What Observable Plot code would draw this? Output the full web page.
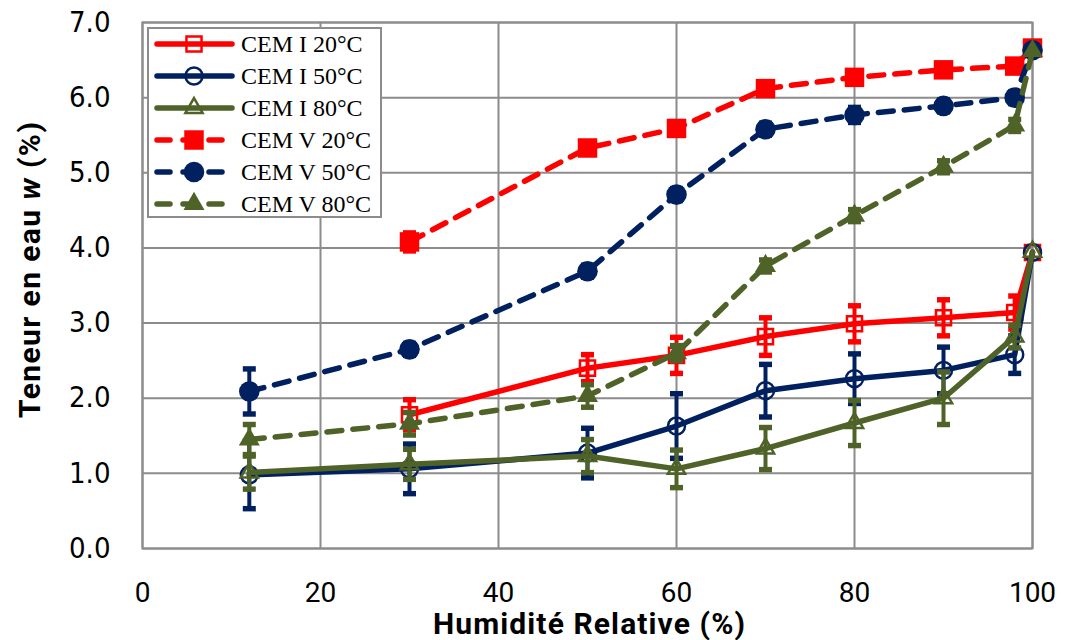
<!DOCTYPE html>
<html><head><meta charset="utf-8">
<script src="https://cdn.jsdelivr.net/npm/d3@7"></script>
<script src="https://cdn.jsdelivr.net/npm/@observablehq/plot@0.6"></script>
<style>
body{margin:0;background:#fff}
#chart{position:relative;width:1065px;height:640px}
</style>
</head><body><div id="chart"></div>
<script>
// ---- data ----
const humidity = [12, 30, 50, 60, 70, 80, 90, 98, 100];
const seriesNames = ["CEM I 20°C", "CEM I 50°C", "CEM I 80°C", "CEM V 20°C", "CEM V 50°C", "CEM V 80°C"];
const cemI20 = [null, 1.78, 2.40, 2.57, 2.82, 2.99, 3.07, 3.14, 3.94];
const cemI50 = [0.98, 1.06, 1.27, 1.63, 2.10, 2.26, 2.37, 2.58, 3.94];
const cemI80 = [1.01, 1.12, 1.23, 1.06, 1.33, 1.67, 2.00, 2.82, 3.95];
const cemV20 = [null, 4.08, 5.33, 5.59, 6.12, 6.27, 6.37, 6.42, 6.66];
const cemV50 = [2.09, 2.65, 3.69, 4.71, 5.58, 5.77, 5.89, 6.00, 6.63];
const cemV80 = [1.45, 1.66, 2.03, 2.60, 3.76, 4.43, 5.08, 5.63, 6.62];
const errI20 = [null, 0.20, 0.18, 0.24, 0.25, 0.24, 0.24, 0.22, 0];
const errI50 = [0.45, 0.33, 0.33, 0.43, 0.35, 0.33, 0.31, 0.25, 0];
const errI80 = [0.22, 0.20, 0.22, 0.25, 0.28, 0.30, 0.35, 0.15, 0];
const errV20 = [null, 0.12, 0.08, 0.08, 0.08, 0.08, 0.08, 0.08, 0];
const errV50 = [0.30, 0.08, 0.08, 0.08, 0.08, 0.10, 0.08, 0.08, 0];
const errV80 = [0.20, 0.15, 0.15, 0.10, 0.08, 0.08, 0.08, 0.08, 0];
const xTicks = [0, 20, 40, 60, 80, 100];
const yTicks = [0, 1, 2, 3, 4, 5, 6, 7];
const xTitle = "Humidité Relative (%)";
const yTitleParts = ["Teneur en eau ", "w", " (%)"];

const values = [cemI20, cemI50, cemI80, cemV20, cemV50, cemV80];
const errors = [errI20, errI50, errI80, errV20, errV50, errV80];

// ---- styles ----
const RED = "#ff0000", NAVY = "#002060", OLIVE = "#4f6228", GRID = "#8c8c8c";
const styles = [
  {color: RED,   dashed: false, symbol: "square",   filled: false, r: 8.5},
  {color: NAVY,  dashed: false, symbol: "circle",   filled: false, r: 8.5},
  {color: OLIVE, dashed: false, symbol: "triangle", filled: false, r: 6.4},
  {color: RED,   dashed: true,  symbol: "square",   filled: true,  r: 11},
  {color: NAVY,  dashed: true,  symbol: "circle",   filled: true,  r: 10.3},
  {color: OLIVE, dashed: true,  symbol: "triangle", filled: true,  r: 7.8}
];
const DASH = "15,11";
const TITLE_FONT = "bold 30px Roboto, 'Open Sans', sans-serif";

const table = [];
seriesNames.forEach((name, i) => {
  humidity.forEach((h, j) => {
    if (values[i][j] != null) table.push({series: name, rh: h, w: values[i][j], err: errors[i][j]});
  });
});

const capSymbol = {
  draw(ctx, size) {
    const s = Math.sqrt(size / Math.PI);
    ctx.rect(-s, -s * 0.42, 2 * s, s * 0.84);
  }
};

const marks = [
  Plot.gridX(xTicks, {stroke: GRID, strokeOpacity: 1, strokeWidth: 2}),
  Plot.gridY(yTicks, {stroke: GRID, strokeOpacity: 1, strokeWidth: 2}),
  Plot.frame({stroke: GRID, strokeWidth: 2}),
  Plot.axisX(xTicks, {tickSize: 0, tickPadding: 34, fontSize: 28, fontFamily: "Roboto, sans-serif", fill: "#000", label: null, tickFormat: d => String(d)}),
  Plot.axisY(yTicks, {tickSize: 0, tickPadding: 32, fontSize: 29, fontFamily: "'DejaVu Sans Condensed', 'DejaVu Sans', sans-serif", fill: "#000", label: null, tickFormat: d => d.toFixed(1)})
];

seriesNames.forEach((name, i) => {
  const st = styles[i];
  const rows = table.filter(d => d.series === name);
  const withErr = rows.filter(d => d.err > 0);
  marks.push(Plot.ruleX(withErr, {x: "rh", y1: d => d.w - d.err, y2: d => d.w + d.err, stroke: st.color, strokeWidth: 4}));
  marks.push(Plot.dot(withErr, {x: "rh", y: d => d.w - d.err, symbol: capSymbol, r: 6.5, fill: st.color, stroke: "none"}));
  marks.push(Plot.dot(withErr, {x: "rh", y: d => d.w + d.err, symbol: capSymbol, r: 6.5, fill: st.color, stroke: "none"}));
  marks.push(Plot.line(rows, {x: "rh", y: "w", stroke: st.color, strokeWidth: 5.5,
    strokeDasharray: st.dashed ? DASH : null, strokeLinecap: "round", strokeLinejoin: "round"}));
  marks.push(Plot.dot(rows, {x: "rh", y: "w", symbol: st.symbol, r: st.r,
    fill: st.filled ? st.color : "none", stroke: st.filled ? "none" : st.color, strokeWidth: 2.5}));
});

const plot = Plot.plot({
  width: 1065,
  height: 640,
  marginLeft: 142,
  marginRight: 33,
  marginTop: 22,
  marginBottom: 92,
  x: {domain: [0, 100]},
  y: {domain: [0, 7]},
  style: {background: "#fff", overflow: "visible"},
  marks
});
document.getElementById("chart").appendChild(plot);

// ---- axis titles & legend (layout only) ----
const svg = d3.select(plot);
const ytitle = svg.append("text")
  .attr("transform", "translate(40,270) rotate(-90)")
  .attr("text-anchor", "middle")
  .attr("textLength", 296)
  .style("font", TITLE_FONT)
  .style("fill", "#000");
ytitle.append("tspan").text(yTitleParts[0]);
ytitle.append("tspan").style("font-style", "italic").text(yTitleParts[1]);
ytitle.append("tspan").text(yTitleParts[2]);

svg.append("text")
  .attr("x", 589).attr("y", 634)
  .attr("text-anchor", "middle")
  .attr("textLength", 312)
  .style("font", TITLE_FONT)
  .style("fill", "#000")
  .text(xTitle);

const lg = svg.append("g");
lg.append("rect").attr("x", 148).attr("y", 28).attr("width", 233).attr("height", 189)
  .attr("fill", "#fff").attr("stroke", GRID).attr("stroke-width", 2);
const symMap = {square: d3.symbolSquare, circle: d3.symbolCircle, triangle: d3.symbolTriangle};
seriesNames.forEach((name, i) => {
  const st = styles[i];
  const cy = 44 + i * 32;
  lg.append("line").attr("x1", 157).attr("x2", 232).attr("y1", cy).attr("y2", cy)
    .attr("stroke", st.color).attr("stroke-width", 5.5).attr("stroke-linecap", "round")
    .attr("stroke-dasharray", st.dashed ? "13,13" : null);
  lg.append("path").attr("transform", `translate(194,${cy})`)
    .attr("d", d3.symbol(symMap[st.symbol], st.r * st.r * Math.PI)())
    .attr("fill", st.filled ? st.color : "none")
    .attr("stroke", st.filled ? "none" : st.color).attr("stroke-width", 2.5);
  lg.append("text").attr("x", 241).attr("y", cy + 8)
    .attr("text-anchor", "start")
    .style("font", "24px 'Liberation Serif', 'DejaVu Serif', serif")
    .style("fill", "#000")
    .text(name);
});
</script>
</body></html>
